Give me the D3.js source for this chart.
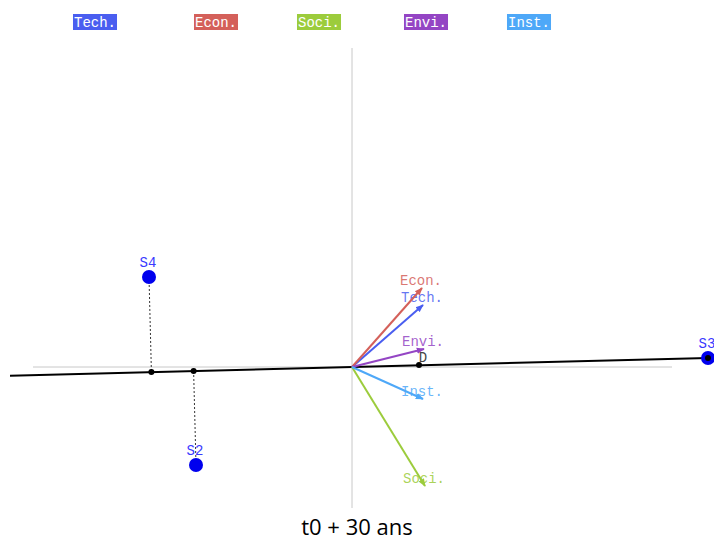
<!DOCTYPE html>
<html>
<head>
<meta charset="utf-8">
<script src="https://cdn.jsdelivr.net/npm/d3@7"></script>
<style>
html,body{margin:0;padding:0;background:#fff;}
svg{display:block;}
</style>
</head>
<body>
<svg id="chart" width="714" height="545"></svg>
<script>
// ---- data ----
const criteria = ["Tech.", "Econ.", "Soci.", "Envi.", "Inst."];
const criteriaColors = ["#4a5ef0", "#d4605a", "#9ccc3c", "#9445c4", "#4ea8f8"];
const arrowX = [0.71, 0.70, 0.73, 0.72, 0.71];
const arrowY = [0.62, 0.79, -1.19, 0.18, -0.32];

const scenarios = ["S4", "S2", "S3"];
const scenarioX = [-2.03, -1.56, 3.56];
const scenarioY = [0.90, -0.98, 0.09];

const decisionLabel = "D";
const decisionXY = [0.67, 0.02];

const axisSlope = 0.0253;          // direction of the decision axis
const axisExtent = [-3.42, 3.56];
const title = "t0 + 30 ans";

// ---- scales ----
const svg = d3.select("#chart");
const x = d3.scaleLinear().domain([0, 1]).range([352, 452]);
const y = d3.scaleLinear().domain([0, 1]).range([367, 267]);

// gray reference axes
svg.append("line").attr("x1", x(-3.19)).attr("x2", x(3.20)).attr("y1", y(0)).attr("y2", y(0))
  .attr("stroke", "#c8c8c8").attr("stroke-width", 1);
svg.append("line").attr("x1", x(0)).attr("x2", x(0)).attr("y1", y(3.19)).attr("y2", y(-1.41))
  .attr("stroke", "#c8c8c8").attr("stroke-width", 1);

// legend
const legendX = [95, 216, 319, 426, 529];
const leg = svg.append("g");
criteria.forEach((c, i) => {
  const g = leg.append("g");
  const t = g.append("text").attr("x", legendX[i]).attr("y", 27)
    .attr("text-anchor", "middle").attr("font-family", "Liberation Mono, monospace")
    .attr("font-size", 14).attr("fill", "#fff").text(c);
  const bb = t.node().getBBox();
  g.insert("rect", "text").attr("x", bb.x - 1).attr("y", 14).attr("width", bb.width + 2).attr("height", 16)
    .attr("fill", criteriaColors[i]);
});

// black decision axis
svg.append("line")
  .attr("x1", x(axisExtent[0])).attr("y1", y(axisExtent[0] * axisSlope))
  .attr("x2", x(axisExtent[1])).attr("y2", y(axisExtent[1] * axisSlope))
  .attr("stroke", "#000").attr("stroke-width", 2);

// arrow markers
const defs = svg.append("defs");
criteria.forEach((c, i) => {
  defs.append("marker").attr("id", "m" + i).attr("viewBox", "0 0 10 10")
    .attr("refX", 9).attr("refY", 5).attr("markerWidth", 4).attr("markerHeight", 4)
    .attr("orient", "auto").attr("markerUnits", "strokeWidth")
    .append("path").attr("d", "M0,1 L10,5 L0,9 Z").attr("fill", criteriaColors[i]);
});

// projections
const norm = Math.sqrt(1 + axisSlope * axisSlope);
scenarios.forEach((s, i) => {
  const t = (scenarioX[i] + scenarioY[i] * axisSlope) / (norm * norm);
  const px = t, py = t * axisSlope;
  if (i < 2) {
    svg.append("line").attr("x1", x(scenarioX[i])).attr("y1", y(scenarioY[i]))
      .attr("x2", x(px)).attr("y2", y(py))
      .attr("stroke", "#333").attr("stroke-width", 1).attr("stroke-dasharray", "2,2");
    svg.append("circle").attr("cx", x(px)).attr("cy", y(py)).attr("r", 3).attr("fill", "#000");
  }
});

// criteria arrows
criteria.forEach((c, i) => {
  svg.append("line").attr("x1", x(0)).attr("y1", y(0)).attr("x2", x(arrowX[i])).attr("y2", y(arrowY[i]))
    .attr("stroke", criteriaColors[i]).attr("stroke-width", 2).attr("marker-end", "url(#m" + i + ")");
  svg.append("text").attr("x", x(arrowX[i]) - 1).attr("y", y(arrowY[i]) - 3)
    .attr("text-anchor", "middle").attr("font-family", "Liberation Mono, monospace")
    .attr("font-size", 14).attr("fill", criteriaColors[i]).attr("fill-opacity", 0.85).text(c);
});

// decision point
svg.append("circle").attr("cx", x(decisionXY[0])).attr("cy", y(decisionXY[1])).attr("r", 3).attr("fill", "#000");
svg.append("text").attr("x", x(decisionXY[0]) + 4).attr("y", y(decisionXY[1]) - 3)
  .attr("text-anchor", "middle").attr("font-family", "Liberation Mono, monospace")
  .attr("font-size", 14).attr("fill", "#444").text(decisionLabel);

// scenarios
scenarios.forEach((s, i) => {
  svg.append("circle").attr("cx", x(scenarioX[i])).attr("cy", y(scenarioY[i])).attr("r", 7).attr("fill", "#0000ee");
  if (i === 2) svg.append("circle").attr("cx", x(scenarioX[i])).attr("cy", y(scenarioY[i])).attr("r", 3).attr("fill", "#000");
  svg.append("text").attr("x", x(scenarioX[i]) - 1).attr("y", y(scenarioY[i]) - 10)
    .attr("text-anchor", "middle").attr("font-family", "Liberation Mono, monospace")
    .attr("font-size", 14).attr("fill", "#3a3aff").text(s);
});

// title
svg.append("text").attr("x", 357).attr("y", 535).attr("text-anchor", "middle")
  .attr("font-family", "Open Sans, sans-serif").attr("font-size", 22).attr("fill", "#000").text(title);
</script>
</body>
</html>
